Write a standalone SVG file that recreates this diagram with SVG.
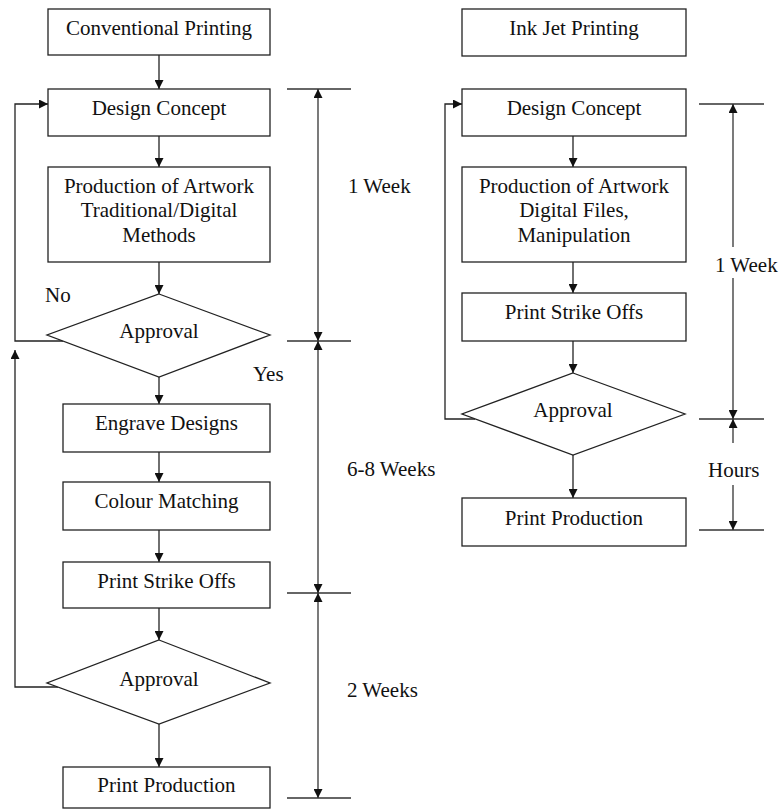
<svg xmlns="http://www.w3.org/2000/svg" width="780" height="809" viewBox="0 0 780 809">
<style>
.box{fill:#fff;stroke:#222;stroke-width:1.3}
.ctr{font-family:'Liberation Serif','Times New Roman',serif;font-size:21px;fill:#111;text-anchor:middle}
.lbl{font-family:'Liberation Serif','Times New Roman',serif;font-size:21px;fill:#111}
.c{fill:none;stroke:#222;stroke-width:1.3}
.d{fill:none;stroke:#333;stroke-width:1.3}
</style>
<defs>
<marker id="ah" viewBox="0 0 10 10" refX="10" refY="5" markerWidth="10" markerHeight="9" markerUnits="userSpaceOnUse" orient="auto">
<path d="M0,0 L10,5 L0,10 z" fill="#111"/>
</marker>
</defs>
<rect width="780" height="809" fill="#fff"/>
<g id="connectors">
<line class="c" x1="159" y1="55" x2="159" y2="89" marker-end="url(#ah)"/>
<line class="c" x1="159" y1="136" x2="159" y2="167" marker-end="url(#ah)"/>
<line class="c" x1="159" y1="262" x2="159" y2="294" marker-end="url(#ah)"/>
<line class="c" x1="159" y1="377" x2="159" y2="404" marker-end="url(#ah)"/>
<line class="c" x1="159" y1="452" x2="159" y2="482" marker-end="url(#ah)"/>
<line class="c" x1="159" y1="530" x2="159" y2="562" marker-end="url(#ah)"/>
<line class="c" x1="159" y1="608" x2="159" y2="640" marker-end="url(#ah)"/>
<line class="c" x1="159" y1="724" x2="159" y2="767" marker-end="url(#ah)"/>
<polyline class="c" points="63,341 15,341 15,104 48,104" marker-end="url(#ah)"/>
<polyline class="c" points="58,687 15,687 15,350" marker-end="url(#ah)"/>
<line class="c" x1="573" y1="136" x2="573" y2="167" marker-end="url(#ah)"/>
<line class="c" x1="573" y1="262" x2="573" y2="293" marker-end="url(#ah)"/>
<line class="c" x1="573" y1="341" x2="573" y2="373" marker-end="url(#ah)"/>
<line class="c" x1="573" y1="455" x2="573" y2="498" marker-end="url(#ah)"/>
<polyline class="c" points="475,419 445,419 445,104 462,104" marker-end="url(#ah)"/>
<line class="d" x1="287" y1="89" x2="351" y2="89"/>
<line class="d" x1="287" y1="341" x2="351" y2="341"/>
<line class="d" x1="287" y1="593" x2="351" y2="593"/>
<line class="d" x1="287" y1="798" x2="351" y2="798"/>
<line class="d" x1="318" y1="200" x2="318" y2="89" marker-end="url(#ah)"/>
<line class="d" x1="318" y1="200" x2="318" y2="341" marker-end="url(#ah)"/>
<line class="d" x1="318" y1="460" x2="318" y2="341" marker-end="url(#ah)"/>
<line class="d" x1="318" y1="460" x2="318" y2="593" marker-end="url(#ah)"/>
<line class="d" x1="318" y1="700" x2="318" y2="593" marker-end="url(#ah)"/>
<line class="d" x1="318" y1="700" x2="318" y2="798" marker-end="url(#ah)"/>
<line class="d" x1="699" y1="104" x2="764" y2="104"/>
<line class="d" x1="699" y1="419" x2="764" y2="419"/>
<line class="d" x1="699" y1="530" x2="764" y2="530"/>
<line class="d" x1="733" y1="247" x2="733" y2="104" marker-end="url(#ah)"/>
<line class="d" x1="733" y1="278" x2="733" y2="419" marker-end="url(#ah)"/>
<line class="d" x1="733" y1="443" x2="733" y2="419" marker-end="url(#ah)"/>
<line class="d" x1="733" y1="485" x2="733" y2="530" marker-end="url(#ah)"/>
</g>
<g id="conv-title"><rect class="box" x="48" y="9" width="222" height="46"/><text class="ctr" x="159" y="35">Conventional Printing</text></g>
<g id="conv-design"><rect class="box" x="48" y="89" width="222" height="47"/><text class="ctr" x="159" y="115">Design Concept</text></g>
<g id="conv-artwork"><rect class="box" x="48" y="167" width="222" height="95"/>
<text class="ctr" x="159" y="193">Production of Artwork</text>
<text class="ctr" x="159" y="217">Traditional/Digital</text>
<text class="ctr" x="159" y="242">Methods</text></g>
<g id="conv-approval1"><polygon class="box" points="159,294 270,335 159,377 47,335"/><text class="ctr" x="159" y="338">Approval</text></g>
<g id="conv-engrave"><rect class="box" x="63" y="404" width="207" height="48"/><text class="ctr" x="166.5" y="430">Engrave Designs</text></g>
<g id="conv-colour"><rect class="box" x="63" y="482" width="207" height="48"/><text class="ctr" x="166.5" y="508">Colour Matching</text></g>
<g id="conv-strike"><rect class="box" x="63" y="562" width="207" height="46"/><text class="ctr" x="166.5" y="588">Print Strike Offs</text></g>
<g id="conv-approval2"><polygon class="box" points="159,640 270,683 159,724 47,683"/><text class="ctr" x="159" y="686">Approval</text></g>
<g id="conv-production"><rect class="box" x="63" y="767" width="207" height="41"/><text class="ctr" x="166.5" y="792">Print Production</text></g>
<g id="ink-title"><rect class="box" x="462" y="9" width="224" height="47"/><text class="ctr" x="574" y="35">Ink Jet Printing</text></g>
<g id="ink-design"><rect class="box" x="462" y="89" width="224" height="47"/><text class="ctr" x="574" y="115">Design Concept</text></g>
<g id="ink-artwork"><rect class="box" x="462" y="167" width="224" height="95"/>
<text class="ctr" x="574" y="193">Production of Artwork</text>
<text class="ctr" x="574" y="217">Digital Files,</text>
<text class="ctr" x="574" y="242">Manipulation</text></g>
<g id="ink-strike"><rect class="box" x="462" y="293" width="224" height="48"/><text class="ctr" x="574" y="319">Print Strike Offs</text></g>
<g id="ink-approval"><polygon class="box" points="573,373 685,414 573,455 462,414"/><text class="ctr" x="573" y="417">Approval</text></g>
<g id="ink-production"><rect class="box" x="462" y="498" width="224" height="48"/><text class="ctr" x="574" y="525">Print Production</text></g>
<g id="labels">
<text class="lbl" x="45" y="302">No</text>
<text class="lbl" x="253" y="381">Yes</text>
<text class="lbl" x="348" y="193">1 Week</text>
<text class="lbl" x="347" y="476">6-8 Weeks</text>
<text class="lbl" x="347" y="697">2 Weeks</text>
<text class="lbl" x="715" y="272">1 Week</text>
<text class="lbl" x="708" y="477">Hours</text>
</g>
</svg>
